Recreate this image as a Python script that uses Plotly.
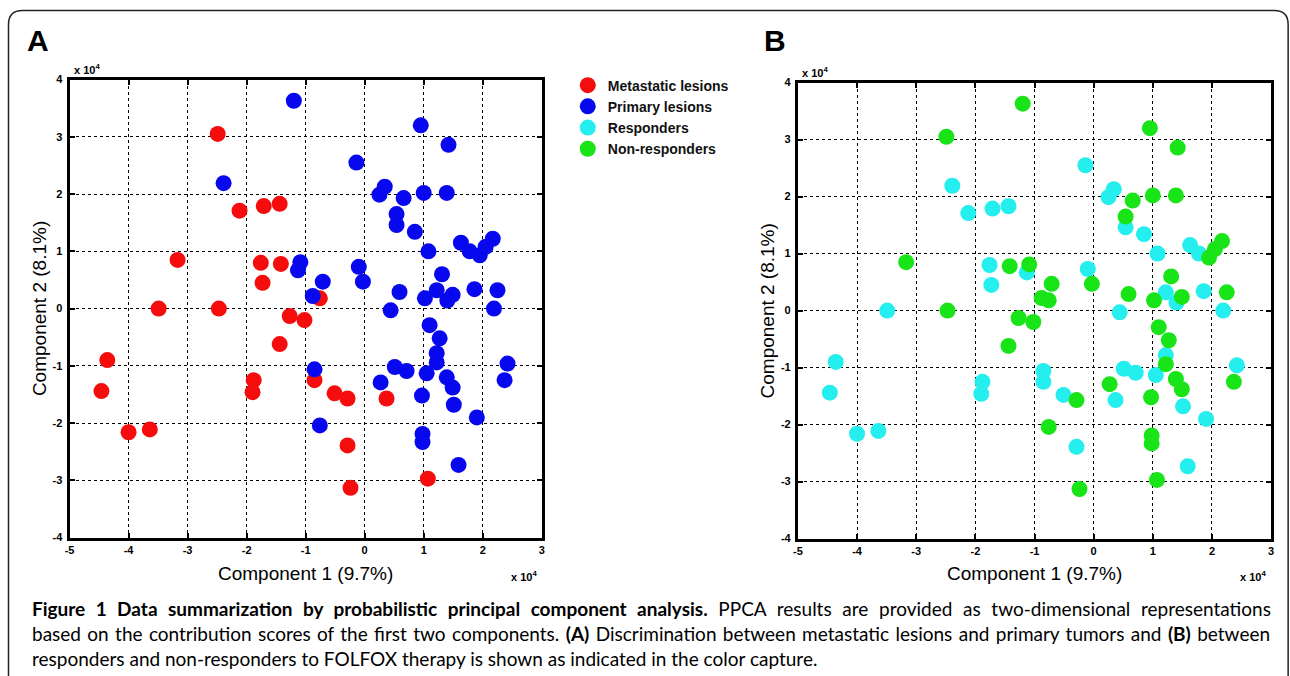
import plotly.graph_objects as go

# ---------------- data (component scores in units of 10^4) ----------------
comp1 = [
    -2.49, -2.12, -1.71, -1.44, -3.17, -1.76, -1.42, -1.73, -3.49, -2.47,
    -1.27, -1.02, -1.44, -4.36, -4.46, -1.88, -1.90, -4.00, -3.64, -0.76,
    -0.85, -0.51, -0.29, 0.37, -0.29, -0.24, 1.07,
    -1.20, -2.39, -1.09, -1.13, -0.88, -0.71, 0.95, 1.42, -0.14, 0.34,
    0.25, 0.66, 1.00, 1.39, 0.54, 0.54, 0.85, 1.08, 1.63, 1.78,
    1.95, 2.05, 2.17, -0.10, -0.03, 0.59, 0.44, 1.02, 1.31, 1.22,
    1.49, 1.40, 1.86, 2.25, 2.19, 1.10, 1.27, 1.22, 1.22, 0.51,
    0.71, 1.05, 1.39, 1.49, 1.51, 0.27, 0.97, 1.90, 2.42, 2.37,
    -0.85, -0.76, 0.98, 0.98, 1.59,
]
comp2 = [
    3.05, 1.71, 1.79, 1.83, 0.85, 0.80, 0.78, 0.45, 0.00, 0.00,
    -0.13, -0.20, -0.62, -0.90, -1.44, -1.25, -1.46, -2.16, -2.11, 0.18,
    -1.25, -1.48, -1.57, -1.57, -2.39, -3.13, -2.97,
    3.63, 2.19, 0.81, 0.67, 0.22, 0.47, 3.20, 2.86, 2.55, 2.13,
    1.99, 1.93, 2.02, 2.02, 1.65, 1.46, 1.34, 1.00, 1.15, 1.00,
    0.93, 1.08, 1.22, 0.73, 0.47, 0.29, -0.03, 0.18, 0.60, 0.32,
    0.24, 0.14, 0.34, 0.32, 0.00, -0.29, -0.52, -0.78, -0.94, -1.02,
    -1.09, -1.13, -1.20, -1.38, -1.68, -1.29, -1.52, -1.90, -0.96, -1.25,
    -1.06, -2.04, -2.19, -2.33, -2.73,
]
# M = metastatic lesion, P = primary lesion
lesion = ["M"] * 27 + ["P"] * 55
# R = responder, N = non-responder
response = [
    "N", "R", "R", "R", "N", "R", "N", "R", "R", "N",
    "N", "N", "N", "R", "R", "R", "R", "R", "R", "N",
    "R", "R", "N", "R", "R", "N", "N",
    "N", "R", "N", "R", "N", "N", "N", "N", "R", "R",
    "R", "N", "N", "N", "N", "R", "R", "R", "R", "R",
    "N", "N", "N", "R", "N", "N", "R", "N", "N", "R",
    "N", "R", "R", "N", "R", "N", "N", "R", "N", "R",
    "R", "R", "N", "N", "R", "N", "N", "R", "R", "N",
    "R", "N", "N", "N", "R",
]

x_ticks = [-5, -4, -3, -2, -1, 0, 1, 2, 3]
x_tick_labels = ["-5", "-4", "-3", "-2", "-1", "0", "1", "2", "3"]
y_ticks = [-4, -3, -2, -1, 0, 1, 2, 3, 4]
y_tick_labels = ["-4", "-3", "-2", "-1", "0", "1", "2", "3", "4"]

groups_a = [("M", "Metastatic lesions", "#f50c0c"), ("P", "Primary lesions", "#0808ee")]
groups_b = [("R", "Responders", "#24eeee"), ("N", "Non-responders", "#18e418")]

x_title = "Component 1 (9.7%)"
y_title = "Component 2 (8.1%)"

caption_bold = "Figure 1 Data summarization by probabilistic principal component analysis."
caption_l1 = " PPCA results are provided as two-dimensional representations"
caption_l2 = ("based on the contribution scores of the first two components. <b>(A)</b> Discrimination "
              "between metastatic lesions and primary tumors and <b>(B)</b> between")
caption_l3 = "responders and non-responders to FOLFOX therapy is shown as indicated in the color capture."

# ---------------- layout helpers (pixel -> paper) ----------------
W, H = 1290, 676
def px(x):
    return ((x - 5.5) / 0.9933) / W
def py(y):
    return 1 - ((y - 6.6) / 0.98) / H

fig = go.Figure()

for code, name, color in groups_a:
    xs = [c1 for c1, l in zip(comp1, lesion) if l == code]
    ys = [c2 for c2, l in zip(comp2, lesion) if l == code]
    fig.add_trace(go.Scatter(x=xs, y=ys, mode="markers", name=name,
                             marker=dict(size=16, color=color, line=dict(width=0)),
                             xaxis="x", yaxis="y"))
for code, name, color in groups_b:
    xs = [c1 for c1, r in zip(comp1, response) if r == code]
    ys = [c2 for c2, r in zip(comp2, response) if r == code]
    fig.add_trace(go.Scatter(x=xs, y=ys, mode="markers", name=name,
                             marker=dict(size=16, color=color, line=dict(width=0)),
                             xaxis="x2", yaxis="y2"))

tick_font = dict(family="Liberation Sans, Arial", size=11, color="black", weight="bold")
def xaxis_style(dom, anchor):
    return dict(domain=dom, anchor=anchor, range=[-5, 3], tickmode="array",
                tickvals=x_ticks, ticktext=x_tick_labels, tickfont=tick_font,
                showline=True, linewidth=3, linecolor="black", mirror="ticks",
                ticks="inside", ticklen=5, tickwidth=2, tickcolor="black",
                showgrid=True, gridcolor="black", griddash="dot", gridwidth=1.3,
                zeroline=False, fixedrange=True)
def yaxis_style(dom, anchor):
    return dict(domain=dom, anchor=anchor, range=[-4, 4], tickmode="array",
                tickvals=y_ticks, ticktext=y_tick_labels, tickfont=tick_font,
                showline=True, linewidth=3, linecolor="black", mirror="ticks",
                ticks="inside", ticklen=5, tickwidth=2, tickcolor="black",
                showgrid=True, gridcolor="black", griddash="dot", gridwidth=1.3,
                zeroline=False, fixedrange=True, ticklabelstandoff=2)

annotations = []
def ann(x, y, text, size, xanchor="center", yanchor="middle", angle=0,
        family="Liberation Sans, Arial", bold=False):
    annotations.append(dict(x=px(x), y=py(y), xref="paper", yref="paper", text=text,
                            showarrow=False, xanchor=xanchor, yanchor=yanchor,
                            textangle=angle,
                            font=dict(family=family, size=size, color="black",
                                      weight="bold" if bold else "normal")))

for (x0, x1, y0, y1, letter, lx) in [(70, 542, 80, 537, "<b>A</b>", 38),
                                      (798, 1271, 83, 538, "<b>B</b>", 775)]:
    ann(lx, 41, letter, 30)
    ann((x0 + x1) / 2, 573, x_title, 19)
    ann(x0 - 30, (y0 + y1) / 2, y_title, 19, angle=-90)
    ann(x0 + 2, y0 - 11, "<b>x 10<sup>4</sup></b>", 11, xanchor="left")
    ann(x1 - 3, 575, "<b>x 10<sup>4</sup></b>", 11, xanchor="right")

cap_font = "Lato"
ann(30, 608, "<span style='word-spacing:5.8px'><b>" + caption_bold + "</b>" + caption_l1 + "</span>",
    19, xanchor="left", family=cap_font)
ann(30, 633, "<span style='word-spacing:1.5px'>" + caption_l2 + "</span>",
    19, xanchor="left", family=cap_font)
ann(30, 658, caption_l3, 19, xanchor="left", family=cap_font)

r = 14
frame_path = (f"M {px(9)},{py(684)} L {px(9)},{py(11 + r)} "
              f"Q {px(9)},{py(11)} {px(9 + r)},{py(11)} "
              f"L {px(1288 - r)},{py(11)} Q {px(1288)},{py(11)} {px(1288)},{py(11 + r)} "
              f"L {px(1288)},{py(684)}")

fig.update_layout(
    width=W, height=H,
    margin=dict(l=0, r=0, t=0, b=0),
    paper_bgcolor="white", plot_bgcolor="white",
    xaxis=xaxis_style([px(70), px(542)], "y"),
    yaxis=yaxis_style([py(537), py(80)], "x"),
    xaxis2=xaxis_style([px(798), px(1271)], "y2"),
    yaxis2=yaxis_style([py(538), py(83)], "x2"),
    showlegend=True,
    legend=dict(x=px(568), y=py(70), xanchor="left", yanchor="top",
                font=dict(family="Liberation Sans, Arial", size=14, color="#111", weight="bold"),
                itemsizing="trace", tracegroupgap=0, bgcolor="rgba(0,0,0,0)",
                itemwidth=30),
    annotations=annotations,
    shapes=[dict(type="path", path=frame_path, xref="paper", yref="paper",
                 line=dict(color="#222", width=1.5))],
)

fig.write_html("out.html",
               config={"displayModeBar": False},
               post_script=("document.body.style.margin='0';"
                            "document.body.style.overflow='hidden';"))
